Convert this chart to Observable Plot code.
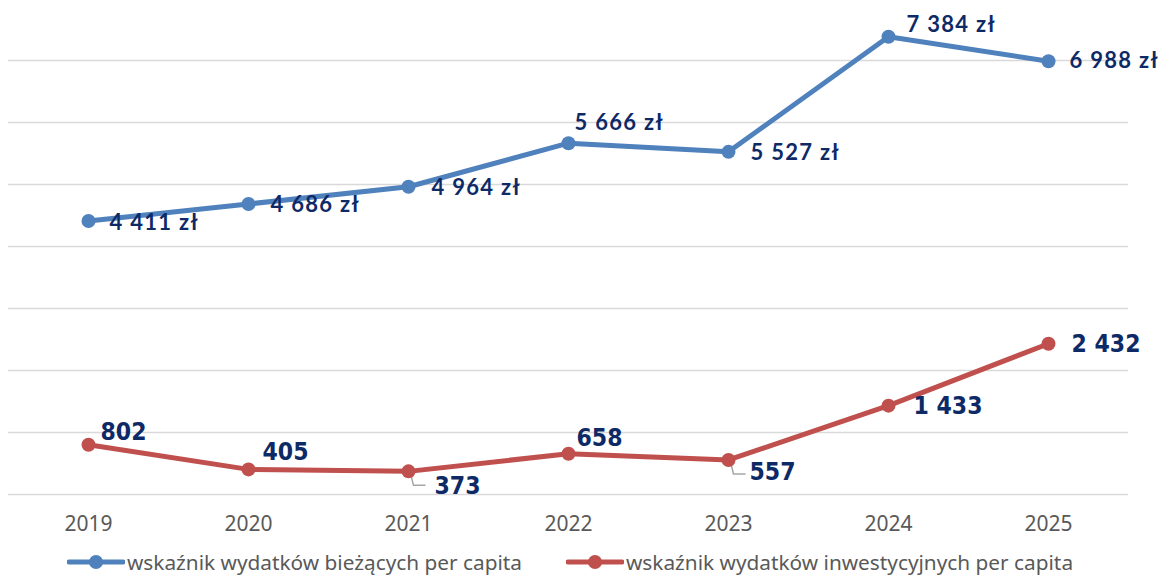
<!DOCTYPE html>
<html>
<head>
<meta charset="utf-8">
<script src="https://cdn.jsdelivr.net/npm/d3@7"></script>
<script src="https://cdn.jsdelivr.net/npm/@observablehq/plot@0.6"></script>
<style>
  html, body { margin: 0; padding: 0; background: #fff; }
  #chart svg { display: block; }
  #chart g[font-family="Lato"] text { letter-spacing: 1.3px; }
  .legend { position: relative; height: 33px; font-family: "Noto Sans", sans-serif; font-size: 20.8px; color: #595959; }
  .legend .item { position: absolute; top: 0; height: 33px; display: flex; align-items: center; }
  .legend svg { display: block; }
</style>
</head>
<body>
<div id="chart"></div>
<div class="legend" id="legend"></div>
<script>
// ---- data ----
const years = ["2019", "2020", "2021", "2022", "2023", "2024", "2025"];
const currentPerCapita = [4411, 4686, 4964, 5666, 5527, 7384, 6988];
const investPerCapita = [802, 405, 373, 658, 557, 1433, 2432];
const seriesNames = ["wskaźnik wydatków bieżących per capita", "wskaźnik wydatków inwestycyjnych per capita"];
const yTicks = [0, 1000, 2000, 3000, 4000, 5000, 6000, 7000];

// ---- layout / styling (label placement, not data) ----
const blueColor = "#4f81bd";
const redColor = "#c0504d";
const labelColor = "#0e2a66";
const blueOffsets = [[21, 2], [22, 1], [23, 1], [6, -20], [22, 1], [18, -12], [21, 0]];
const redOffsets = [[12, -13], [14, -17], [26, 15], [8, -16], [21, 12], [25, 1], [23, 0]];
const leaderYears = ["2021", "2023"];

const fmt = v => d3.format(",")(v).replace(/,/g, " ");

const blue = years.map((y, i) => ({year: y, value: currentPerCapita[i], label: fmt(currentPerCapita[i]) + " zł", dx: blueOffsets[i][0], dy: blueOffsets[i][1]}));
const red = years.map((y, i) => ({year: y, value: investPerCapita[i], label: fmt(investPerCapita[i]), dx: redOffsets[i][0], dy: redOffsets[i][1]}));

const leaderSymbol = {
  draw(ctx) {
    ctx.moveTo(2, 2);
    ctx.lineTo(5, 14);
    ctx.lineTo(17, 14);
  }
};

function textLabels(data, opts) {
  return data.map(d => Plot.text([d], {x: "year", y: "value", text: "label", dx: d.dx, dy: d.dy, textAnchor: "start", ...opts}));
}

const chart = Plot.plot({
  width: 1162,
  height: 545,
  marginLeft: 8,
  marginRight: 34,
  marginTop: 60,
  marginBottom: 51,
  x: {type: "point", domain: years, padding: 0.5},
  y: {domain: [0, 7000], axis: null},
  style: {background: "#fff", overflow: "visible"},
  marks: [
    Plot.ruleY(yTicks, {stroke: "#d9d9d9", strokeWidth: 1.6}),
    Plot.axisX({tickSize: 0, tickPadding: 22, fontSize: 21, fill: "#595959", fontFamily: "Noto Sans", label: null}),
    Plot.dot(red.filter(d => leaderYears.includes(d.year)), {x: "year", y: "value", symbol: leaderSymbol, r: 1, stroke: "#a6a6a6", fill: "none", strokeWidth: 1.5}),
    Plot.line(blue, {x: "year", y: "value", stroke: blueColor, strokeWidth: 5, strokeLinejoin: "round"}),
    Plot.dot(blue, {x: "year", y: "value", r: 7, fill: blueColor}),
    Plot.line(red, {x: "year", y: "value", stroke: redColor, strokeWidth: 5, strokeLinejoin: "round"}),
    Plot.dot(red, {x: "year", y: "value", r: 7, fill: redColor}),
    ...textLabels(blue, {fill: labelColor, fontSize: 22, fontWeight: "bold", fontFamily: "Lato"}),
    ...textLabels(red, {fill: labelColor, fontSize: 24.5, fontWeight: "bold", fontFamily: "DejaVu Sans Condensed"})
  ]
});
document.getElementById("chart").append(chart);

// ---- legend ----
const legend = document.getElementById("legend");
const legendItems = [
  {name: seriesNames[0], color: blueColor, left: 67},
  {name: seriesNames[1], color: redColor, left: 566}
];
for (const it of legendItems) {
  const div = document.createElement("div");
  div.className = "item";
  div.style.left = it.left + "px";
  div.innerHTML = `<svg width="58" height="20"><line x1="2" y1="10" x2="56" y2="10" stroke="${it.color}" stroke-width="5" stroke-linecap="round"/><circle cx="29" cy="10" r="7" fill="${it.color}"/></svg><span style="margin-left:2px">${it.name}</span>`;
  legend.append(div);
}
</script>
</body>
</html>
